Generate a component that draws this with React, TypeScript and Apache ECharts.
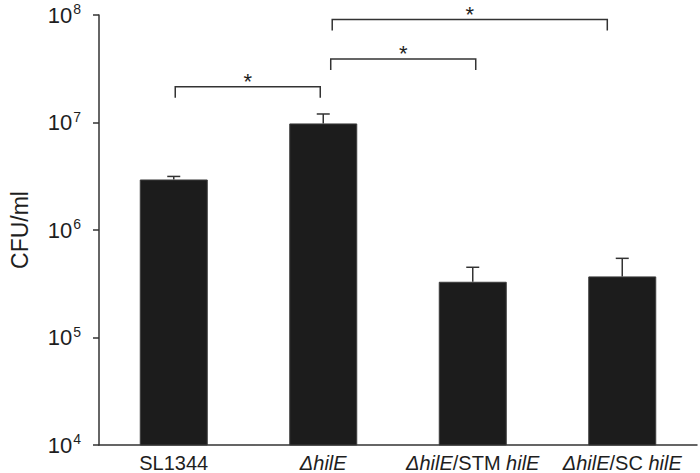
import React, { useEffect, useRef } from "react";
import * as echarts from "echarts";

const categories = ["SL1344", "ΔhilE", "ΔhilE/STM hilE", "ΔhilE/SC hilE"];
const cfuMeans = [2.95e6, 9.8e6, 3.3e5, 3.7e5];
const cfuUpper = [3.15e6, 1.2e7, 4.5e5, 5.45e5];
// [fromCategory, toCategory, bracketHeight, fromOffset (bands), toOffset (bands)]
const brackets = [
  [0, 1, 2.15e7, 0.01, -0.02],
  [1, 2, 3.9e7, 0.05, 0.02],
  [1, 3, 9.1e7, 0.06, -0.1],
];
const bracketLabels = ["*", "*", "*"];

const richLabels: Record<string, string> = {
  SL1344: "{n|SL1344}",
  "ΔhilE": "{i|ΔhilE}",
  "ΔhilE/STM hilE": "{i|ΔhilE}{n|/STM }{i|hilE}",
  "ΔhilE/SC hilE": "{i|ΔhilE}{n|/SC }{i|hilE}",
};

const FONT = "Arial";
const INK = "#1e1e1e";

export default function App() {
  const ref = useRef<HTMLDivElement>(null);
  useEffect(() => {
    document.body.style.margin = "0";
    const chart = echarts.init(ref.current!, undefined, { renderer: "svg" });
    chart.setOption({
      animation: false,
      backgroundColor: "#ffffff",
      textStyle: { fontFamily: FONT },
      grid: { left: 97, right: 3, top: 15, bottom: 28, containLabel: false },
      xAxis: {
        type: "category",
        data: categories,
        axisLine: { lineStyle: { color: "#333", width: 1.5 } },
        axisTick: { show: false },
        axisLabel: {
          interval: 0,
          margin: 8,
          fontSize: 20,
          fontFamily: FONT,
          color: INK,
          formatter: (v: string) => richLabels[v] ?? v,
          rich: {
            n: { fontSize: 20, color: INK, fontFamily: FONT },
            i: { fontSize: 20, color: INK, fontFamily: FONT, fontStyle: "italic" },
          },
        },
      },
      yAxis: {
        type: "log",
        logBase: 10,
        min: 1e4,
        max: 1e8,
        name: "CFU/ml",
        nameLocation: "middle",
        nameGap: 68,
        nameTextStyle: { fontSize: 23, color: INK, fontFamily: FONT },
        axisLine: { show: true, lineStyle: { color: "#333", width: 1.5 } },
        axisTick: { show: true, length: 6, lineStyle: { color: "#333", width: 1.5 } },
        minorTick: { show: false },
        splitLine: { show: false },
        axisLabel: {
          margin: 18,
          fontSize: 22,
          fontFamily: FONT,
          color: INK,
          formatter: (v: number) => `{b|10}{s|${Math.round(Math.log10(v))}}`,
          rich: {
            b: { fontSize: 22, color: INK, fontFamily: FONT },
            s: { fontSize: 14, color: INK, fontFamily: FONT, padding: [0, 0, 12, 1] },
          },
        },
      },
      series: [
        {
          type: "bar",
          data: cfuMeans,
          barWidth: 68,
          itemStyle: { color: "#1c1c1c", borderColor: "#3c3c3c", borderWidth: 1 },
          z: 2,
        },
        {
          type: "custom",
          data: cfuMeans.map((m, i) => [i, m, cfuUpper[i]]),
          encode: { x: 0, y: [1, 2] },
          z: 3,
          renderItem: (params: any, api: any) => {
            const i = api.value(0);
            const base = api.coord([i, api.value(1)]);
            const top = api.coord([i, api.value(2)]);
            const half = 6.5;
            return {
              type: "group",
              children: [
                {
                  type: "line",
                  shape: { x1: base[0], y1: base[1], x2: top[0], y2: top[1] },
                  style: { stroke: "#333", lineWidth: 1.5 },
                },
                {
                  type: "line",
                  shape: { x1: top[0] - half, y1: top[1], x2: top[0] + half, y2: top[1] },
                  style: { stroke: "#333", lineWidth: 1.5 },
                },
              ],
            };
          },
        },
        {
          type: "custom",
          data: brackets,
          encode: { x: 0, y: 2 },
          z: 3,
          clip: false,
          renderItem: (params: any, api: any) => {
            const a = api.value(0);
            const b = api.value(1);
            const yv = api.value(2);
            const band = api.size([1, 0])[0];
            const p1 = api.coord([a, yv]);
            const p2 = api.coord([b, yv]);
            const x1 = p1[0] + api.value(3) * band;
            const x2 = p2[0] + api.value(4) * band;
            const y = p1[1];
            const leg = 11;
            return {
              type: "group",
              children: [
                {
                  type: "polyline",
                  shape: { points: [[x1, y + leg], [x1, y], [x2, y], [x2, y + leg]] },
                  style: { stroke: "#333", lineWidth: 1.5, fill: null },
                },
                {
                  type: "text",
                  x: (x1 + x2) / 2,
                  y: y - 5,
                  style: {
                    text: bracketLabels[params.dataIndex],
                    fontSize: 22,
                    fontFamily: FONT,
                    fill: INK,
                    align: "center",
                    verticalAlign: "middle",
                  },
                },
              ],
            };
          },
        },
      ],
    });
    return () => chart.dispose();
  }, []);
  return (
    <div
      ref={ref}
      style={{ width: 700, height: 473, position: "absolute", left: 0, top: 0 }}
    />
  );
}
